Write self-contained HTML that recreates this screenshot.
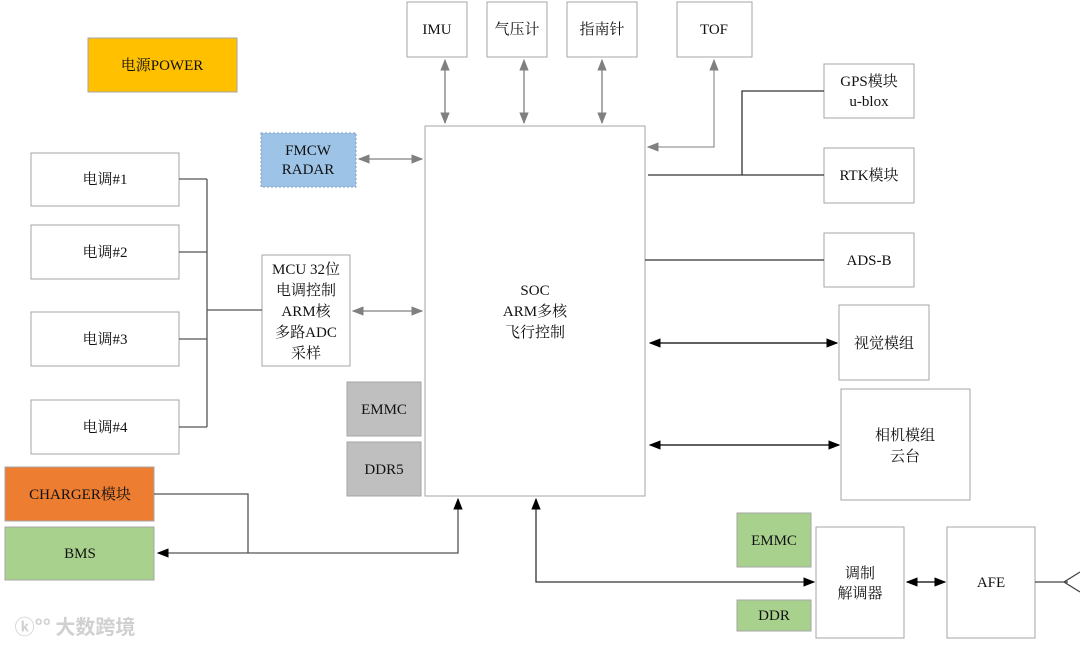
<!DOCTYPE html>
<html><head><meta charset="utf-8"><style>
html,body{margin:0;padding:0;background:#fff;}
svg{display:block;}
text{font-family:"Liberation Serif","Noto Serif CJK SC","Noto Sans CJK SC",serif;font-size:15px;fill:#111;text-anchor:middle;}
</style></head><body>
<svg width="1080" height="646" viewBox="0 0 1080 646" xmlns="http://www.w3.org/2000/svg">
<defs>
<marker id="ab" viewBox="0 0 10 10" refX="9" refY="5" markerWidth="9" markerHeight="9" orient="auto-start-reverse"><path d="M0,1 L10,5 L0,9 z" fill="#000"/></marker>
<marker id="ag" viewBox="0 0 10 10" refX="9" refY="5" markerWidth="9" markerHeight="9" orient="auto-start-reverse"><path d="M0,1 L10,5 L0,9 z" fill="#808080"/></marker>
</defs>
<g stroke="#a6a6a6" stroke-width="1" fill="#fff">
<rect x="88" y="38" width="149" height="54" fill="#FFC000"/>
<rect x="407" y="2" width="60" height="55"/>
<rect x="487" y="2" width="60" height="55"/>
<rect x="567" y="2" width="70" height="55"/>
<rect x="677" y="2" width="75" height="55"/>
<rect x="261" y="133" width="95" height="54" fill="#9DC3E6" stroke-dasharray="2,2" stroke="#7f9fbf"/>
<rect x="425" y="126" width="220" height="370"/>
<rect x="824" y="64" width="90" height="54"/>
<rect x="824" y="148" width="90" height="55"/>
<rect x="824" y="233" width="90" height="54"/>
<rect x="839" y="305" width="90" height="75"/>
<rect x="841" y="389" width="129" height="111"/>
<rect x="31" y="153" width="148" height="53"/>
<rect x="31" y="225" width="148" height="54"/>
<rect x="31" y="312" width="148" height="54"/>
<rect x="31" y="400" width="148" height="54"/>
<rect x="262" y="255" width="88" height="111"/>
<rect x="347" y="382" width="74" height="54" fill="#BFBFBF"/>
<rect x="347" y="442" width="74" height="54" fill="#BFBFBF"/>
<rect x="5" y="467" width="149" height="54" fill="#ED7D31"/>
<rect x="5" y="527" width="149" height="53" fill="#A9D18E"/>
<rect x="737" y="513" width="74" height="54" fill="#A9D18E"/>
<rect x="737" y="600" width="74" height="31" fill="#A9D18E"/>
<rect x="816" y="527" width="88" height="111"/>
<rect x="947" y="527" width="88" height="111"/>
</g>
<g fill="none" stroke-width="1.3">
<path d="M179,179 H207 M179,252 H207 M179,339 H207 M179,427 H207 M207,179 V427 M207,310 H262" stroke="#555"/>
<line x1="353" y1="311" x2="422" y2="311" stroke="#808080" marker-start="url(#ag)" marker-end="url(#ag)"/>
<line x1="359" y1="159" x2="422" y2="159" stroke="#808080" marker-start="url(#ag)" marker-end="url(#ag)"/>
<line x1="445" y1="60" x2="445" y2="123" stroke="#808080" marker-start="url(#ag)" marker-end="url(#ag)"/>
<line x1="524" y1="60" x2="524" y2="123" stroke="#808080" marker-start="url(#ag)" marker-end="url(#ag)"/>
<line x1="602" y1="60" x2="602" y2="123" stroke="#808080" marker-start="url(#ag)" marker-end="url(#ag)"/>
<path d="M648,147 H714 V60" stroke="#999" marker-start="url(#ag)" marker-end="url(#ag)"/>
<path d="M824,91 H742 V175 M648,175 H824 M645,260 H824" stroke="#333"/>
<line x1="650" y1="343" x2="837" y2="343" stroke="#000" marker-start="url(#ab)" marker-end="url(#ab)"/>
<line x1="650" y1="445" x2="839" y2="445" stroke="#000" marker-start="url(#ab)" marker-end="url(#ab)"/>
<path d="M154,494 H248 V553" stroke="#555"/>
<path d="M158,553 H458 V499" stroke="#555" marker-start="url(#ab)" marker-end="url(#ab)"/>
<path d="M536,499 V582 H814" stroke="#333" marker-start="url(#ab)" marker-end="url(#ab)"/>
<line x1="907" y1="582" x2="945" y2="582" stroke="#000" marker-start="url(#ab)" marker-end="url(#ab)"/>
<path d="M1035,582 H1068 M1080,572 L1064,582 L1080,592" stroke="#444"/>
</g>
<text x="162" y="70">电源POWER</text>
<text x="437" y="34">IMU</text>
<text x="517" y="34">气压计</text>
<text x="602" y="34">指南针</text>
<text x="714" y="34">TOF</text>
<text x="308" y="155">FMCW</text>
<text x="308" y="174">RADAR</text>
<text x="535" y="295">SOC</text>
<text x="535" y="316">ARM多核</text>
<text x="535" y="337">飞行控制</text>
<text x="869" y="86">GPS模块</text>
<text x="869" y="106">u-blox</text>
<text x="869" y="180">RTK模块</text>
<text x="869" y="265">ADS-B</text>
<text x="884" y="348">视觉模组</text>
<text x="905" y="440">相机模组</text>
<text x="905" y="461">云台</text>
<text x="105" y="184">电调#1</text>
<text x="105" y="257">电调#2</text>
<text x="105" y="344">电调#3</text>
<text x="105" y="432">电调#4</text>
<text x="306" y="274">MCU 32位</text>
<text x="306" y="295">电调控制</text>
<text x="306" y="316">ARM核</text>
<text x="306" y="337">多路ADC</text>
<text x="306" y="358">采样</text>
<text x="384" y="414">EMMC</text>
<text x="384" y="474">DDR5</text>
<text x="80" y="499">CHARGER模块</text>
<text x="80" y="558">BMS</text>
<text x="774" y="545">EMMC</text>
<text x="774" y="620">DDR</text>
<text x="860" y="578">调制</text>
<text x="860" y="598">解调器</text>
<text x="991" y="587">AFE</text>
<text x="75" y="634" style="font-size:20px;fill:#d0d0d0;font-family:'Noto Sans CJK SC',sans-serif;font-weight:bold">ⓚ°° 大数跨境</text>
</svg>
</body></html>
